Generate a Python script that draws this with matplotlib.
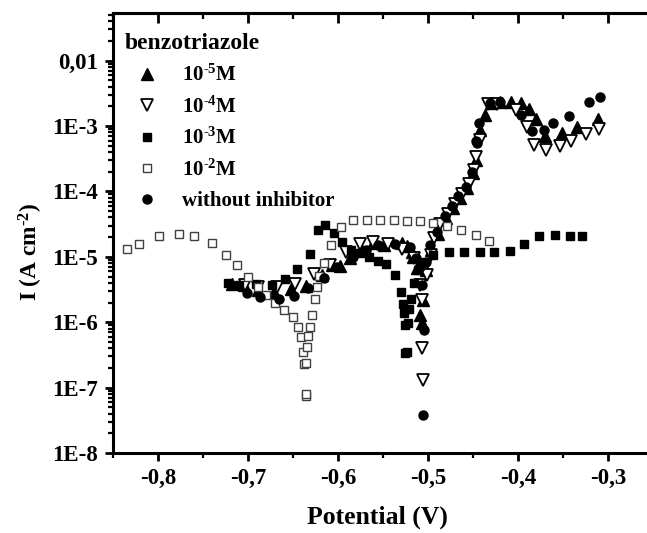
import matplotlib
matplotlib.use("Agg")
import matplotlib.pyplot as plt
from matplotlib.ticker import FixedLocator, FuncFormatter, LogLocator, NullFormatter

plt.rcParams['font.family'] = ['Liberation Serif', 'DejaVu Serif']
plt.rcParams['font.weight'] = 'bold'
plt.rcParams['mathtext.fontset'] = 'custom'
plt.rcParams['mathtext.rm'] = 'Liberation Serif:bold'
plt.rcParams['mathtext.bf'] = 'Liberation Serif:bold'
plt.rcParams['mathtext.default'] = 'bf'

# 10^-5 M benzotriazole (filled up-triangles)
e_5 = [-0.718, -0.704, -0.689, -0.671, -0.652, -0.635, -0.618, -0.607, -0.598, -0.587,
       -0.574, -0.561, -0.549, -0.529, -0.523, -0.518, -0.517, -0.512, -0.509, -0.507,
       -0.506, -0.502, -0.497, -0.489, -0.480, -0.472, -0.464, -0.457, -0.450, -0.447,
       -0.442, -0.436, -0.430, -0.420, -0.408, -0.397, -0.388, -0.380, -0.370, -0.351,
       -0.334, -0.311]
i_5 = [3.8e-6, 3.7e-6, 3.1e-6, 2.9e-6, 3.2e-6, 3.6e-6, 5.3e-6, 7.5e-6, 7.2e-6, 9.6e-6,
       1.30e-5, 1.61e-5, 1.51e-5, 1.61e-5, 1.46e-5, 1.20e-5, 9.8e-6, 6.7e-6, 1.29e-6, 9.6e-7,
       2.2e-6, 6.3e-6, 1.27e-5, 2.23e-5, 3.9e-5, 5.6e-5, 7.9e-5, 1.13e-4, 1.91e-4, 3.0e-4,
       8.7e-4, 1.47e-3, 2.22e-3, 2.30e-3, 2.30e-3, 2.22e-3, 1.80e-3, 1.26e-3, 7.1e-4, 7.9e-4,
       9.7e-4, 1.28e-3]

# 10^-4 M (open down-triangles)
e_4 = [-0.703, -0.689, -0.668, -0.648, -0.627, -0.609, -0.591, -0.576, -0.561, -0.544,
       -0.529, -0.516, -0.509, -0.507, -0.507, -0.505, -0.501, -0.497, -0.493, -0.486,
       -0.478, -0.470, -0.462, -0.454, -0.449, -0.447, -0.442, -0.433, -0.423, -0.402,
       -0.390, -0.382, -0.369, -0.353, -0.341, -0.324, -0.310]
i_4 = [3.7e-6, 3.4e-6, 3.45e-6, 3.9e-6, 5.5e-6, 7.4e-6, 1.20e-5, 1.58e-5, 1.70e-5, 1.57e-5,
       1.30e-5, 9.6e-6, 3.7e-6, 2.2e-6, 4.0e-7, 1.31e-7, 5.3e-6, 1.07e-5, 1.94e-5, 3.2e-5,
       4.5e-5, 6.4e-5, 9.1e-5, 1.30e-4, 2.12e-4, 3.4e-4, 6.1e-4, 2.15e-3, 2.2e-3, 1.76e-3,
       9.7e-4, 5.1e-4, 4.3e-4, 4.9e-4, 5.8e-4, 7.5e-4, 8.9e-4]

# 10^-3 M (filled squares)
e_3 = [-0.722, -0.710, -0.691, -0.673, -0.659, -0.645, -0.631, -0.622, -0.614, -0.604,
       -0.595, -0.586, -0.576, -0.566, -0.556, -0.547, -0.537, -0.530, -0.528, -0.527,
       -0.526, -0.522, -0.526, -0.523, -0.521, -0.519, -0.516, -0.511, -0.507, -0.494,
       -0.477, -0.460, -0.442, -0.426, -0.409, -0.393, -0.376, -0.359, -0.342, -0.329]
i_3 = [4.0e-6, 3.7e-6, 3.8e-6, 3.7e-6, 4.6e-6, 6.4e-6, 1.09e-5, 2.6e-5, 3.1e-5, 2.33e-5,
       1.70e-5, 1.27e-5, 1.13e-5, 9.8e-6, 8.7e-6, 7.7e-6, 5.3e-6, 2.9e-6, 1.9e-6, 1.40e-6,
       9.1e-7, 9.6e-7, 3.4e-7, 3.5e-7, 1.57e-6, 2.24e-6, 4.0e-6, 6.3e-6, 8.3e-6, 1.07e-5,
       1.17e-5, 1.17e-5, 1.17e-5, 1.20e-5, 1.24e-5, 1.56e-5, 2.06e-5, 2.15e-5, 2.10e-5, 2.10e-5]

# 10^-2 M (open squares)
e_2 = [-0.834, -0.821, -0.799, -0.777, -0.760, -0.740, -0.724, -0.712, -0.700, -0.689,
       -0.680, -0.670, -0.660, -0.650, -0.644, -0.641, -0.639, -0.638, -0.636, -0.635,
       -0.635, -0.634, -0.633, -0.631, -0.629, -0.626, -0.623, -0.621, -0.616, -0.608,
       -0.597, -0.583, -0.568, -0.553, -0.538, -0.523, -0.509, -0.494, -0.479, -0.463,
       -0.447, -0.432]
i_2 = [1.30e-5, 1.55e-5, 2.10e-5, 2.23e-5, 2.06e-5, 1.61e-5, 1.08e-5, 7.4e-6, 4.9e-6, 3.4e-6,
       2.6e-6, 2.0e-6, 1.55e-6, 1.19e-6, 8.4e-7, 5.9e-7, 3.5e-7, 2.3e-7, 7.4e-8, 8.0e-8,
       2.4e-7, 4.2e-7, 6.2e-7, 8.4e-7, 1.30e-6, 2.24e-6, 3.4e-6, 5.1e-6, 8.1e-6, 1.50e-5,
       2.9e-5, 3.7e-5, 3.65e-5, 3.65e-5, 3.65e-5, 3.56e-5, 3.47e-5, 3.29e-5, 2.96e-5, 2.57e-5,
       2.15e-5, 1.75e-5]

# without inhibitor (filled circles)
e_0 = [-0.701, -0.687, -0.665, -0.649, -0.633, -0.615, -0.601, -0.583, -0.569, -0.555,
       -0.537, -0.520, -0.513, -0.509, -0.507, -0.504, -0.505, -0.502, -0.498, -0.490,
       -0.481, -0.473, -0.466, -0.458, -0.451, -0.446, -0.445, -0.443, -0.431, -0.420,
       -0.396, -0.384, -0.371, -0.361, -0.343, -0.321, -0.309]
i_0 = [2.8e-6, 2.4e-6, 2.26e-6, 2.5e-6, 3.3e-6, 4.8e-6, 7.0e-6, 1.0e-5, 1.27e-5, 1.51e-5,
       1.55e-5, 1.43e-5, 9.5e-6, 7.1e-6, 3.7e-6, 7.6e-7, 3.8e-8, 8.3e-6, 1.51e-5, 2.39e-5,
       4.2e-5, 6.0e-5, 8.5e-5, 1.17e-4, 1.98e-4, 6.0e-4, 5.5e-4, 1.10e-3, 2.25e-3, 2.34e-3,
       1.47e-3, 8.5e-4, 8.7e-4, 1.10e-3, 1.44e-3, 2.30e-3, 2.77e-3]

x_ticks = [-0.8, -0.7, -0.6, -0.5, -0.4, -0.3]
x_minor = [-0.85, -0.75, -0.65, -0.55, -0.45, -0.35, -0.25]
y_ticks = [1e-8, 1e-7, 1e-6, 1e-5, 1e-4, 1e-3, 1e-2]
y_labels = ['1E-8', '1E-7', '1E-6', '1E-5', '1E-4', '1E-3', '0,01']

fig = plt.figure(figsize=(6.47, 5.33), dpi=100)
ax = fig.add_axes([0.1747, 0.1501, 0.8454, 0.8255])

ax.plot(e_5, i_5, '^', ms=8, color='black', mec='black', label=r'10$^{\text{-5}}$M')
ax.plot(e_4, i_4, 'v', ms=8, mfc='white', mec='black', mew=1.3, label=r'10$^{\text{-4}}$M')
ax.plot(e_3, i_3, 's', ms=5.5, color='black', label=r'10$^{\text{-3}}$M')
ax.plot(e_2, i_2, 's', ms=5.5, mfc='white', mec='#404040', mew=1.0, label=r'10$^{\text{-2}}$M')
ax.plot(e_0, i_0, 'o', ms=6.5, color='black', label='without inhibitor')

ax.set_yscale('log')
ax.set_xlim(-0.85, -0.242)
ax.set_ylim(1e-8, 0.0535)

ax.yaxis.set_major_locator(FixedLocator(y_ticks))
ax.yaxis.set_major_formatter(FuncFormatter(
    lambda v, p: y_labels[y_ticks.index(min(y_ticks, key=lambda t: abs(t - v)))]))
ax.yaxis.set_minor_locator(LogLocator(base=10, subs=range(2, 10), numticks=20))
ax.yaxis.set_minor_formatter(NullFormatter())

ax.xaxis.set_major_locator(FixedLocator(x_ticks))
ax.xaxis.set_minor_locator(FixedLocator(x_minor))
ax.xaxis.set_major_formatter(FuncFormatter(lambda v, p: ('%.1f' % v).replace('.', ',')))

for s in ['left', 'bottom', 'top']:
    ax.spines[s].set_linewidth(2.2)
ax.spines['right'].set_visible(False)

ax.tick_params(axis='both', which='major', labelsize=16.5, width=2, length=6, direction='out')
ax.tick_params(axis='y', which='major', pad=5)
ax.tick_params(axis='x', which='major', pad=5)
ax.tick_params(axis='both', which='minor', width=1.6, length=3.5, direction='out')

top = ax.secondary_xaxis('top')
top.xaxis.set_major_locator(FixedLocator(x_ticks))
top.xaxis.set_minor_locator(FixedLocator(x_minor))
top.tick_params(which='major', direction='in', length=7, width=2, labeltop=False)
top.tick_params(which='minor', direction='in', length=4, width=1.6)
top.spines['top'].set_linewidth(2.2)

ax.set_xlabel('Potential (V)', fontsize=18.5, fontweight='bold')
ax.xaxis.set_label_coords(0.4835, -0.12)
ax.set_ylabel(r'I (A cm$^{\text{-2}}$)', fontsize=16.8, fontweight='bold')
ax.yaxis.set_label_coords(-0.125, 0.458)

leg = ax.legend(loc='upper left', bbox_to_anchor=(0.0, 0.98), frameon=False,
                title='benzotriazole', alignment='left',
                prop={'size': 15, 'weight': 'bold'},
                title_fontproperties={'size': 17, 'weight': 'bold'},
                handletextpad=0.55, labelspacing=0.5, borderaxespad=0.15,
                handlelength=2.2)

fig.savefig('out.png', dpi=100)
